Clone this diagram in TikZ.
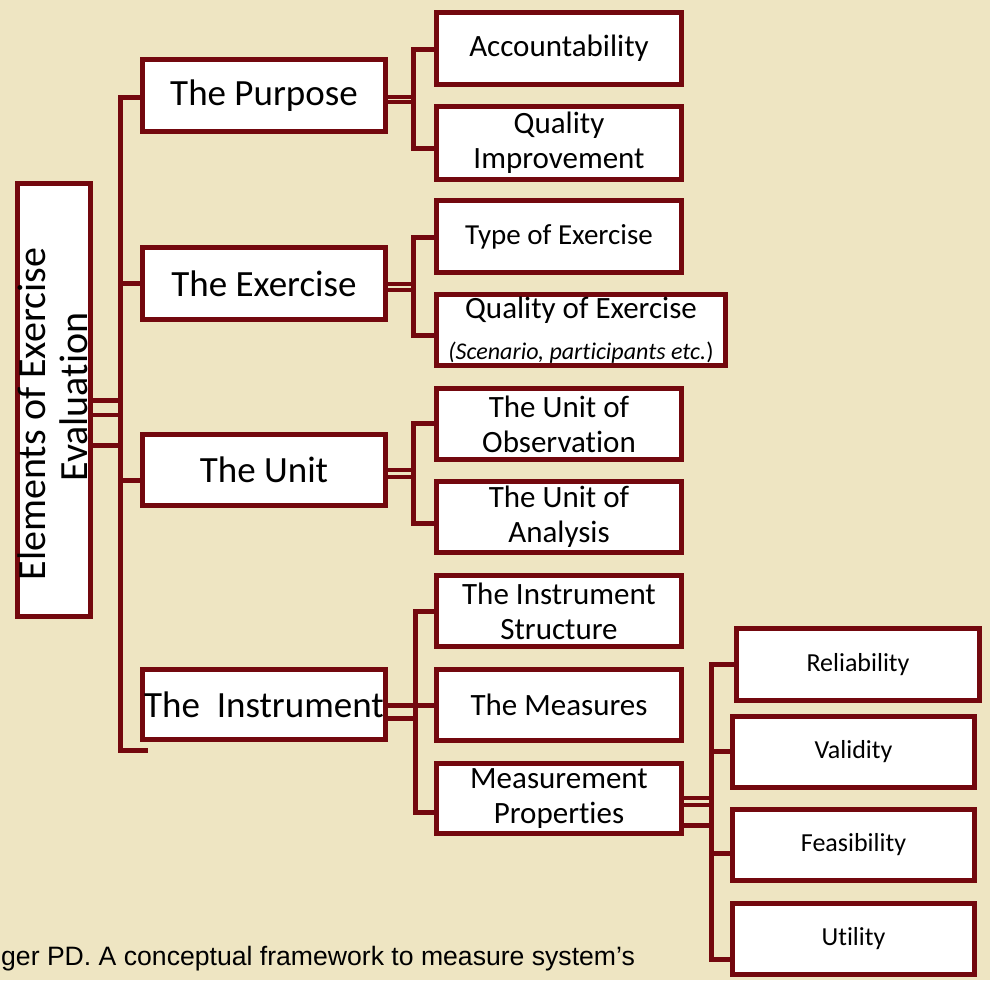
\documentclass[tikz,border=0pt]{standalone}
\usepackage{fontspec}
\setmainfont{Carlito}[Ligatures={NoCommon}]
\newfontfamily\arialf{Liberation Sans}
\usetikzlibrary{backgrounds}
\definecolor{dred}{RGB}{115,8,14}
\definecolor{bgtan}{RGB}{238,229,194}
\tikzset{
  box/.style={draw=dred, line width=5pt, fill=white, inner sep=0pt, align=center, rectangle},
  lvlone/.style={box, minimum width=243pt, font=\fontsize{37}{42}\selectfont},
  lvltwo/.style={box, minimum width=245pt, font=\fontsize{31}{35}\selectfont},
  lvlthree/.style={box, minimum width=242pt, font=\fontsize{26}{30}\selectfont},
  conn/.style={draw=dred, line width=5pt, line join=miter},
  thinconn/.style={draw=dred, line width=4pt},
}
\begin{document}
\begin{tikzpicture}[x=1pt,y=-1pt]
\useasboundingbox (0,0) rectangle (990,980);
\begin{pgfonlayer}{background}
\fill[bgtan] (0,0) rectangle (990,980);
\end{pgfonlayer}

% root
\node[box, minimum width=73pt, minimum height=433pt] (root) at (54,400) {};
\node[rotate=90, align=center, font=\fontsize{40}{42}\selectfont, inner sep=0pt] (roottext) at (53,397) {Elements of Exercise\hbox to 34pt{}\\Evaluation};

% level one
\node[lvlone, minimum height=72pt] (purpose) at (264,95.5) {The Purpose};
\node[lvlone, minimum height=72pt] (exercise) at (264,283.5) {The Exercise};
\node[lvlone, minimum height=71pt] (unit) at (264,470) {The Unit};
\node[lvlone, minimum height=70pt] (instrument) at (264,704.5) {The\ \ Instrument};

% level two
\node[lvltwo, minimum height=72pt] (account) at (559,48.5) {Accountability};
\node[lvltwo, minimum height=73pt] (qualimp) at (559,143) {Quality\\Improvement};
\node[lvltwo, minimum height=72pt, font=\fontsize{29}{33}\selectfont] (typeex) at (559,236.5) {Type of Exercise};
\node[lvltwo, minimum width=289pt, minimum height=71pt] (qualex) at (581,330) {Quality of Exercise\\[6pt]{\fontsize{24}{26}\selectfont\itshape(Scenario, part\kern0pt icipants etc.}{\fontsize{24}{26}\selectfont)}};
\node[lvltwo, minimum height=71pt] (unitobs) at (559,424) {The Unit of\\Observation};
\node[lvltwo, minimum height=71pt] (unitana) at (559,517) {The Unit of\\Analysis};
\node[lvltwo, minimum height=71pt] (instrstruct) at (559,611) {The Instrument\\Structure};
\node[lvltwo, minimum height=71pt] (measures) at (559,705) {The Measures};
\node[lvltwo, minimum height=70pt] (measprop) at (559,798.5) {Measurement\\Propert\kern0pt ies};

% level three
\node[lvlthree, minimum width=243pt, minimum height=72pt] (reliab) at (858,664.5) {Reliability};
\node[lvlthree, minimum height=71pt] (valid) at (853.5,752) {Validity};
\node[lvlthree, minimum height=71pt] (feasib) at (853.5,845) {Feasibility};
\node[lvlthree, minimum height=71pt] (utility) at (853.5,939) {Utility};

% citation
\node[anchor=base west, inner sep=0pt, font=\arialf\fontsize{26.6}{30}\selectfont] (cite) at (1,965) {ger PD. A conceptual framework to measure system’s};

% bus coordinates
\coordinate (rbusT) at (120,97);
\coordinate (rbusB) at (120,750);
\coordinate (stubend) at (148,750);

\begin{pgfonlayer}{background}
% root to bus
\draw[conn] (root.east |- 0,400) -- (120,400);
\draw[thinconn] (root.east |- 0,415) -- (120,415);
\draw[conn] (root.east |- 0,445) -- (120,445);
\draw[conn] (purpose.west |- 0,97) -- (rbusT) -- (rbusB) -- (stubend);
\draw[conn] (120,283) -- (exercise.west |- 0,283);
\draw[conn] (120,480) -- (unit.west |- 0,480);

% purpose
\draw[thinconn] (purpose.east |- 0,96.5) -- (413,96.5);
\draw[thinconn] (purpose.east |- 0,101.5) -- (413,101.5);
\draw[conn] (account.west |- 0,49) -- (413,49) -- (413,148) -- (qualimp.west |- 0,148);
% exercise
\draw[thinconn] (exercise.east |- 0,283.5) -- (413,283.5);
\draw[thinconn] (exercise.east |- 0,289.5) -- (413,289.5);
\draw[conn] (typeex.west |- 0,237) -- (413,237) -- (413,335) -- (qualex.west |- 0,335);
% unit
\draw[thinconn] (unit.east |- 0,470) -- (413,470);
\draw[thinconn] (unit.east |- 0,477) -- (413,477);
\draw[conn] (unitobs.west |- 0,423) -- (413,423) -- (413,523) -- (unitana.west |- 0,523);
% instrument
\draw[conn] (instrument.east |- 0,705) -- (measures.west |- 0,705);
\draw[conn] (instrument.east |- 0,718) -- (415,718);
\draw[conn] (instrstruct.west |- 0,611) -- (415,611) -- (415,812) -- (measprop.west |- 0,812);
% measurement properties
\draw[thinconn] (measprop.east |- 0,798) -- (711,798);
\draw[thinconn] (measprop.east |- 0,805) -- (711,805);
\draw[conn] (measprop.east |- 0,825) -- (711,825);
\draw[conn] (reliab.west |- 0,664) -- (711,664) -- (711,959) -- (utility.west |- 0,959);
\draw[conn] (711,751) -- (valid.west |- 0,751);
\draw[conn] (711,853) -- (feasib.west |- 0,853);
\end{pgfonlayer}
\end{tikzpicture}
\end{document}
